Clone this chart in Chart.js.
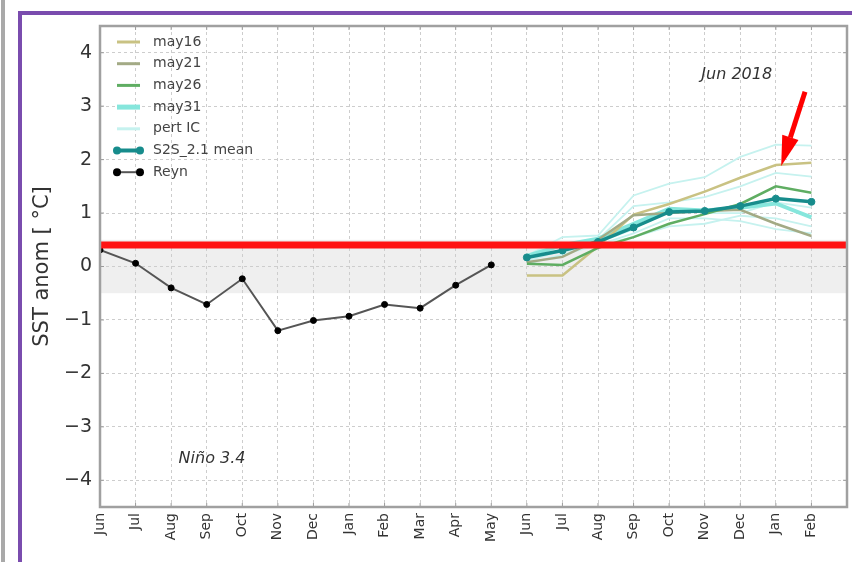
<!DOCTYPE html>
<html lang="en">
<head>
<meta charset="UTF-8">
<title>Nino 3.4 SST anomaly</title>
<script src="https://cdn.jsdelivr.net/npm/chart.js"></script>
<style>
  html, body { margin: 0; padding: 0; background: #fff; }
  #page { position: relative; width: 852px; height: 562px; overflow: hidden; }
  #edge { position: absolute; left: 1px; top: 0; width: 4px; height: 562px; background: #a9a9a9; }
  #frame { position: absolute; left: 18px; top: 11px; width: 900px; height: 700px; border: 4px solid #7a4cae; box-sizing: border-box; }
  #chart { position: absolute; left: 0; top: 0; }
</style>
</head>
<body>
<div id="page">
  <div id="edge"></div>
  <div id="frame"></div>
  <canvas id="chart" width="852" height="562"></canvas>
</div>
<script>
// month tick labels, Jun 2017 .. Feb 2019
const months = ['Jun', 'Jul', 'Aug', 'Sep', 'Oct', 'Nov', 'Dec', 'Jan', 'Feb', 'Mar', 'Apr', 'May',
                'Jun', 'Jul', 'Aug', 'Sep', 'Oct', 'Nov', 'Dec', 'Jan', 'Feb'];
const yTicks = [-4, -3, -2, -1, 0, 1, 2, 3, 4];

// observed (Reynolds) anomalies, Jun..May
const reyn = [0.31, 0.06, -0.40, -0.71, -0.23, -1.20, -1.01, -0.93, -0.71, -0.78, -0.35, 0.03];

// forecasts start at the second Jun (index 12)
const forecastStart = 12;
const s2sMean = [0.17, 0.30, 0.46, 0.73, 1.02, 1.04, 1.13, 1.27, 1.21];
const may16 = [-0.17, -0.17, 0.38, 0.97, 1.17, 1.40, 1.66, 1.90, 1.94];
const may21 = [0.08, 0.18, 0.50, 0.96, 1.00, 1.04, 1.06, 0.80, 0.57];
const may26 = [0.05, 0.03, 0.35, 0.55, 0.80, 0.98, 1.17, 1.50, 1.38];
const may31 = [0.20, 0.40, 0.52, 0.80, 1.08, 1.05, 1.10, 1.18, 0.92];
const pertIC1 = [0.20, 0.55, 0.58, 1.33, 1.55, 1.67, 2.05, 2.28, 2.26];
const pertIC2 = [0.15, 0.40, 0.50, 1.13, 1.20, 1.30, 1.50, 1.75, 1.68];
const pertIC3 = [0.10, 0.30, 0.45, 0.70, 1.10, 1.00, 1.00, 1.20, 1.10];
const pertIC4 = [0.22, 0.28, 0.40, 0.62, 0.90, 0.90, 0.85, 0.70, 0.62];
const pertIC5 = [0.05, 0.22, 0.40, 0.55, 0.75, 0.80, 0.95, 0.90, 0.75];

const thresholdValue = 0.4;   // red horizontal line
const neutralBand = [-0.5, 0.5];

const colReyn = '#555555';
const colMean = '#178c8c';
const col16 = '#c9c283';
const col21 = '#a3aa85';
const col26 = '#5fad62';
const col31 = '#86e6dc';
const colPert = '#c6f2ef';

function obs(values) {
    return values.map((v, i) => ({ x: i, y: v }));
}
function fc(values) {
    return values.map((v, i) => ({ x: forecastStart + i, y: v }));
}
function line(label, values, color, width, order) {
    return { label, data: fc(values), borderColor: color, borderWidth: width, pointRadius: 0, order };
}

const datasets = [
    { label: 'limit', data: [{ x: 0, y: thresholdValue }, { x: months.length, y: thresholdValue }],
      borderColor: '#ff1212', borderWidth: 7, pointRadius: 0, order: 0 },
    { label: 'Reyn', data: obs(reyn), borderColor: colReyn, borderWidth: 2,
      pointRadius: 3, pointBorderWidth: 1, pointBackgroundColor: '#000', pointBorderColor: '#000', order: 1 },
    { label: 'S2S_2.1 mean', data: fc(s2sMean), borderColor: colMean, borderWidth: 3.5,
      pointRadius: 3.5, pointBorderWidth: 1, pointBackgroundColor: colMean, pointBorderColor: colMean, order: 2 },
    line('may26', may26, col26, 2.5, 3),
    line('may21', may21, col21, 2.5, 4),
    line('may16', may16, col16, 2.5, 5),
    line('may31', may31, col31, 4, 6),
    line('pert IC', pertIC1, colPert, 1.8, 7),
    line('pert IC', pertIC2, colPert, 1.8, 7),
    line('pert IC', pertIC3, colPert, 1.8, 7),
    line('pert IC', pertIC4, colPert, 1.8, 7),
    line('pert IC', pertIC5, colPert, 1.8, 7)
];

const legendItems = [
    { label: 'may16', color: col16, width: 3 },
    { label: 'may21', color: col21, width: 3 },
    { label: 'may26', color: col26, width: 3 },
    { label: 'may31', color: col31, width: 5 },
    { label: 'pert IC', color: colPert, width: 3 },
    { label: 'S2S_2.1 mean', color: colMean, width: 4, marker: colMean },
    { label: 'Reyn', color: colReyn, width: 2, marker: '#000' }
];

const font = '"DejaVu Sans", sans-serif';

// grey neutral band behind the grid
const bandPlugin = {
    id: 'band',
    beforeDraw(chart) {
        const { ctx, chartArea: a, scales: { y } } = chart;
        const top = y.getPixelForValue(neutralBand[1]);
        const bottom = y.getPixelForValue(neutralBand[0]);
        ctx.save();
        ctx.fillStyle = '#efefef';
        ctx.fillRect(a.left, top, a.right - a.left, bottom - top);
        ctx.restore();
    }
};

// frame, inward ticks, legend and notes
const decorPlugin = {
    id: 'decor',
    afterDraw(chart) {
        const { ctx, chartArea: a, scales: { x, y } } = chart;
        ctx.save();

        // arrow pointing at the Jan forecast
        const tailX = x.getPixelForValue(19.82), tailY = y.getPixelForValue(3.27);
        const tipX = x.getPixelForValue(19.15), tipY = y.getPixelForValue(1.88);
        const ang = Math.atan2(tipY - tailY, tipX - tailX);
        const headLen = 30, headHalf = 8.5;
        const baseX = tipX - headLen * Math.cos(ang), baseY = tipY - headLen * Math.sin(ang);
        ctx.strokeStyle = '#ff0000';
        ctx.fillStyle = '#ff0000';
        ctx.lineWidth = 5;
        ctx.beginPath();
        ctx.moveTo(tailX, tailY);
        ctx.lineTo(baseX, baseY);
        ctx.stroke();
        ctx.beginPath();
        ctx.moveTo(tipX, tipY);
        ctx.lineTo(baseX + headHalf * Math.sin(ang), baseY - headHalf * Math.cos(ang));
        ctx.lineTo(baseX - headHalf * Math.sin(ang), baseY + headHalf * Math.cos(ang));
        ctx.closePath();
        ctx.fill();

        // text notes
        ctx.fillStyle = '#333';
        ctx.font = 'italic 16px ' + font;
        ctx.textAlign = 'center';
        ctx.textBaseline = 'middle';
        ctx.fillText('Jun 2018', x.getPixelForValue(17.9), y.getPixelForValue(3.59));
        ctx.fillText('Niño 3.4', x.getPixelForValue(3.15), y.getPixelForValue(-3.6));

        // inward tick marks
        ctx.strokeStyle = '#9a9a9a';
        ctx.lineWidth = 1;
        ctx.beginPath();
        x.ticks.forEach(t => {
            const px = x.getPixelForValue(t.value);
            ctx.moveTo(px, a.bottom); ctx.lineTo(px, a.bottom - 4);
            ctx.moveTo(px, a.top); ctx.lineTo(px, a.top + 4);
        });
        y.ticks.forEach(t => {
            const py = y.getPixelForValue(t.value);
            ctx.moveTo(a.left, py); ctx.lineTo(a.left + 4, py);
            ctx.moveTo(a.right, py); ctx.lineTo(a.right - 4, py);
        });
        ctx.stroke();

        // plot frame
        ctx.strokeStyle = '#a0a0a0';
        ctx.lineWidth = 2.5;
        ctx.strokeRect(a.left, a.top, a.right - a.left, a.bottom - a.top);

        // legend
        const lx = a.left + 17, tx = a.left + 53;
        let ly = a.top + 16;
        ctx.font = '14px ' + font;
        ctx.textAlign = 'left';
        ctx.textBaseline = 'middle';
        legendItems.forEach(item => {
            ctx.strokeStyle = item.color;
            ctx.lineWidth = item.width;
            ctx.beginPath();
            ctx.moveTo(lx, ly);
            ctx.lineTo(lx + 23, ly);
            ctx.stroke();
            if (item.marker) {
                ctx.fillStyle = item.marker;
                [lx, lx + 23].forEach(mx => {
                    ctx.beginPath();
                    ctx.arc(mx, ly, 4, 0, Math.PI * 2);
                    ctx.fill();
                });
            }
            ctx.fillStyle = '#444';
            ctx.fillText(item.label, tx, ly);
            ly += 21.7;
        });
        ctx.restore();
    }
};

new Chart(document.getElementById('chart'), {
    type: 'line',
    data: { datasets },
    options: {
        responsive: false,
        animation: false,
        devicePixelRatio: 1,
        layout: { padding: { top: 26, right: 4, left: 0, bottom: 0 } },
        plugins: { legend: { display: false }, tooltip: { enabled: false } },
        elements: { line: { tension: 0, fill: false } },
        scales: {
            x: {
                type: 'linear',
                min: 0,
                max: months.length,
                afterBuildTicks: s => { s.ticks = months.map((m, i) => ({ value: i })); },
                afterFit: s => { s.height = 55; s.paddingLeft = 0; s.paddingRight = 0; },
                grid: { color: '#cdcdcd', lineWidth: 1, drawTicks: false },
                border: { display: false, dash: [3, 3] },
                ticks: {
                    autoSkip: false,
                    minRotation: 90,
                    maxRotation: 90,
                    padding: 6,
                    color: '#333',
                    font: { family: font, size: 14 },
                    callback: v => months[v] ?? ''
                }
            },
            y: {
                min: -4.5,
                max: 4.5,
                afterBuildTicks: s => { s.ticks = yTicks.map(v => ({ value: v })); },
                afterFit: s => { s.width = 100; },
                grid: { color: '#cdcdcd', lineWidth: 1, drawTicks: false },
                border: { display: false, dash: [3, 3] },
                ticks: {
                    padding: 8,
                    color: '#333',
                    font: { family: font, size: 19 },
                    callback: v => String(v).replace('-', '\u2212')
                },
                title: {
                    display: true,
                    text: 'SST anom [ °C]',
                    color: '#333',
                    font: { family: font, size: 21 },
                    padding: { top: 30, bottom: 0 }
                }
            }
        }
    },
    plugins: [bandPlugin, decorPlugin]
});
</script>
</body>
</html>
